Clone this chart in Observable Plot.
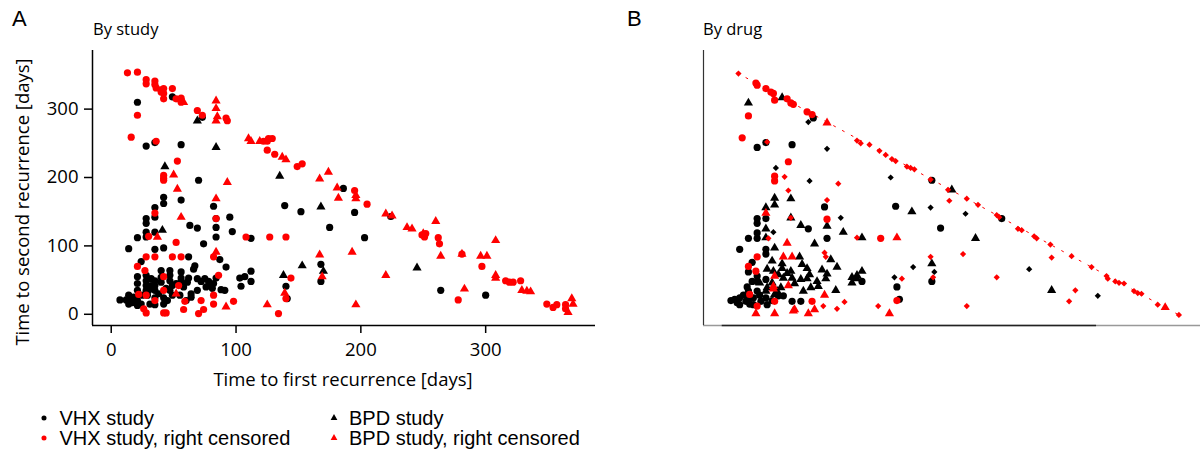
<!DOCTYPE html>
<html><head><meta charset="utf-8">
<script src="https://cdn.jsdelivr.net/npm/d3@7"></script>
<script src="https://cdn.jsdelivr.net/npm/@observablehq/plot@0.6"></script>
<style>
body{margin:0;background:#fff;}
#wrap{position:relative;width:1203px;height:450px;overflow:hidden;font-family:"Open Sans",sans-serif;color:#000;}
.abs{position:absolute;white-space:nowrap;line-height:1;}
.plot{position:absolute;top:0;}
.leg{position:absolute;font-family:"Liberation Sans",Arial,sans-serif;font-size:20px;line-height:20px;white-space:nowrap;}
</style></head>
<body><div id="wrap">
<div class="abs" style="left:12px;top:8px;font-size:22px;font-family:'Liberation Sans',Arial,sans-serif;">A</div>
<div class="abs" style="left:93px;top:21px;font-size:16.5px;">By study</div>
<div class="abs" style="left:627px;top:8px;font-size:22px;font-family:'Liberation Sans',Arial,sans-serif;">B</div>
<div class="abs" style="left:703px;top:21px;font-size:16.5px;">By drug</div>
<div class="abs" style="left:22px;top:202px;font-size:18.5px;transform:translate(-50%,-50%) rotate(-90deg);">Time to second recurrence [days]</div>
<div class="abs" style="left:343px;top:379px;font-size:18.5px;transform:translate(-50%,-50%);">Time to first recurrence [days]</div>
<div id="pa" class="plot" style="left:0px"></div>
<div id="pb" class="plot" style="left:611px"></div>
<div id="legend"></div>
</div>
<script>
// ---------- Panel A: by study (days) ----------
const xTicks = [0, 100, 200, 300];
const yTicks = [0, 100, 200, 300];

// VHX study, event observed (black circles)
const vhxObserved = [[21,310],[49,318],[73,288],[28,246],[35,251],[56,248],[70,196],[139,159],[42,171],[42,162],[56,167],[82,158],[95,142],[152,150],[175,127],[186,184],[195,149],[203,112],[224,143],[264,35],[300,28],[168,73],[168,48],[140,41],[141,23],[63,130],[69,126],[74,103],[84,140],[84,127],[84,113],[97,121],[112,111],[28,140],[28,133],[28,120],[28,113],[35,156],[35,142],[35,120],[21,112],[14,96],[35,95],[42,97],[62,84],[24,77],[87,80],[92,69],[91,35],[103,53],[107,55],[112,63],[112,48],[104,41],[67,71],[66,66],[84,53],[76,40],[80,42],[81,38],[69,52],[72,48],[69,35],[64,30],[64,25],[49,28],[47,64],[47,57],[47,49],[49,42],[47,35],[56,62],[56,53],[56,48],[62,53],[61,47],[40,64],[40,54],[40,47],[35,49],[35,42],[35,35],[35,24],[32,52],[32,42],[30,35],[29,28],[28,57],[28,49],[28,42],[28,35],[21,55],[21,45],[21,35],[14,28],[16,23],[18,25],[14,15],[7,21],[21,20],[21,13],[24,15],[42,24],[42,15],[55,28],[60,20],[35,14],[45,20],[38,30],[52,45],[44,38],[25,28],[31,15],[17,17],[12,21],[58,40],[75,52],[82,45],[88,36],[78,48]];
// VHX study, right censored (red circles)
const vhxCensored = [[13,353],[21,354],[28,343],[28,337],[35,341],[35,336],[36,331],[40,328],[42,330],[40,325],[42,323],[42,315],[49,330],[52,315],[56,316],[56,310],[69,298],[73,291],[21,291],[16,259],[36,253],[92,287],[93,283],[53,224],[42,203],[42,199],[42,196],[122,253],[125,253],[126,257],[129,257],[125,240],[131,234],[149,216],[153,220],[195,181],[205,161],[249,116],[252,118],[251,113],[262,112],[263,103],[281,88],[297,70],[316,49],[319,47],[322,47],[328,49],[349,15],[354,10],[357,14],[364,14],[364,8],[278,21],[144,53],[140,23],[134,1],[108,113],[127,113],[140,113],[98,19],[35,148],[30,114],[52,105],[28,84],[35,84],[49,84],[56,84],[21,70],[27,64],[84,140],[82,84],[42,55],[42,35],[35,20],[22,29],[28,28],[26,8],[28,2],[42,2],[44,2],[58,7],[54,42],[59,19],[70,1],[74,7],[72,20],[82,15],[82,28],[86,57]];
// BPD study, event observed (black triangles)
const bpdObserved = [[69,283],[84,244],[43,216],[135,202],[41,123],[168,157],[153,71],[170,63],[138,57],[245,68]];
// BPD study, right censored (red triangles)
const bpdCensored = [[84,312],[84,301],[85,289],[84,283],[58,310],[50,204],[53,183],[93,193],[110,257],[112,253],[119,253],[137,230],[140,226],[167,198],[174,208],[181,185],[182,170],[196,174],[196,169],[193,91],[220,147],[225,144],[237,127],[241,125],[260,136],[264,85],[281,88],[296,85],[301,85],[308,108],[308,57],[308,53],[329,35],[333,34],[336,33],[369,23],[370,15],[366,3],[220,57],[283,37],[196,14],[167,87],[169,55],[139,31],[125,14],[92,11],[84,169],[56,142],[37,113],[84,91],[52,30],[250,118]];

// ---------- Panel B: by drug (days, follow-up truncated at one year) ----------
const asObserved = [[73,287],[28,244],[35,251],[56,248],[139,158],[82,157],[175,126],[224,140],[168,48],[168,196],[140,40],[112,48],[69,125],[84,111],[28,140],[35,140],[28,133],[28,119],[21,111],[28,111],[14,95],[35,95],[35,88],[24,76],[28,56],[28,48],[35,51],[7,20],[14,24],[14,14],[19,19],[25,24],[25,14],[31,19],[28,34],[21,34],[35,24],[36,14],[49,27],[56,19],[63,19],[142,22],[17,28],[21,22],[10,22],[12,17],[22,15],[30,28],[20,40],[24,48],[40,20],[45,27],[21,62]];
const cqObserved = [[21,309],[48,317],[184,182],[152,150],[203,111],[264,35],[168,74],[42,170],[42,160],[55,169],[35,156],[55,141],[84,129],[35,125],[35,112],[63,130],[97,120],[112,112],[42,97],[74,103],[62,84],[87,80],[92,69],[64,73],[68,67],[41,63],[48,67],[55,63],[49,53],[56,53],[63,51],[68,52],[76,48],[83,52],[84,59],[77,41],[71,39],[65,34],[91,35],[47,39],[40,46],[44,34],[36,39],[104,54],[108,52],[112,63],[104,46],[108,57],[35,34],[42,29],[30,46],[45,58],[58,45],[52,60],[70,58],[36,66],[40,78],[48,74],[80,65]];
const pmqObserved = [[69,281],[84,242],[43,214],[70,195],[135,200],[95,141],[41,120],[167,156],[195,147],[246,66],[301,27],[138,54],[153,69],[170,62]];
const asCensored = [[27,338],[28,335],[35,330],[39,325],[41,323],[42,313],[52,315],[55,309],[57,307],[68,296],[72,292],[21,290],[16,258],[53,223],[42,202],[42,195],[127,111],[84,139],[28,84],[21,70],[27,63],[140,20],[72,19],[22,29],[28,12],[42,19]];
const cqCensored = [[84,280],[35,148],[52,104],[49,84],[56,84],[140,112],[134,1],[42,56],[41,41],[41,37],[53,42],[27,1],[42,1],[58,7],[69,1],[74,7],[82,28],[355,10],[57,5]];
const pmqCensored = [[13,352],[108,254],[111,250],[118,248],[126,239],[131,233],[136,227],[139,224],[148,216],[151,214],[154,212],[167,197],[181,182],[220,145],[222,142],[237,125],[240,123],[250,114],[252,111],[263,102],[280,85],[296,69],[308,56],[309,52],[315,48],[318,46],[322,45],[330,34],[333,31],[336,30],[349,14],[366,-1],[36,252],[50,201],[53,181],[93,191],[84,167],[55,141],[108,112],[82,90],[83,84],[37,111],[81,12],[92,8],[98,18],[125,12],[144,52],[167,84],[169,54],[193,88],[196,12],[220,54],[283,35],[278,19],[264,83],[182,166],[196,169],[205,160]];
// one-year follow-up limit drawn in panel B
const followUpLimit = [[12,353],[366,-1]];

const legendItems = [
  {label:"VHX study", symbol:"circle", color:"black", col:0, row:0},
  {label:"VHX study, right censored", symbol:"circle", color:"red", col:0, row:1},
  {label:"BPD study", symbol:"triangle", color:"black", col:1, row:0},
  {label:"BPD study, right censored", symbol:"triangle", color:"red", col:1, row:1}
];

const RED = "#ff0000";
const xDomA = [-15, 388], yDom = [-16.4, 385.7];
const px = d => d[0], py = d => d[1];
const RC = 3.6, RT = 3.4, RD = 2.8;

const plotA = Plot.plot({
  width: 600, height: 400,
  marginLeft: 92, marginRight: 5, marginTop: 50, marginBottom: 75,
  x: {domain: xDomA}, y: {domain: yDom},
  style: {fontFamily: "'Open Sans', sans-serif", fontSize: "18.5px", background: "transparent", color: "#000"},
  marks: [
    Plot.axisX(xTicks, {tickSize: 8, tickPadding: 9, strokeWidth: 1.5, fontSize: 18.5, label: null}),
    Plot.axisY(yTicks, {tickSize: 8, tickPadding: 6, strokeWidth: 1.5, fontSize: 18.5, label: null}),
    Plot.ruleX([xDomA[0]], {strokeWidth: 1.5}),
    Plot.ruleY([yDom[0]], {strokeWidth: 1.5}),
    Plot.dot(vhxObserved, {x: px, y: py, symbol: "circle", fill: "black", r: RC}),
    Plot.dot(bpdObserved, {x: px, y: py, symbol: "triangle", fill: "black", r: RT}),
    Plot.dot(vhxCensored, {x: px, y: py, symbol: "circle", fill: RED, r: RC}),
    Plot.dot(bpdCensored, {x: px, y: py, symbol: "triangle", fill: RED, r: RT})
  ]
});
document.getElementById("pa").append(plotA);

const xDomB = [-15, 383.3];
const plotB = Plot.plot({
  width: 592, height: 400,
  marginLeft: 92, marginRight: 3, marginTop: 50, marginBottom: 75,
  x: {domain: xDomB, axis: null}, y: {domain: yDom, axis: null},
  style: {background: "transparent"},
  marks: [
    Plot.ruleY([yDom[0]], {stroke: "#999", strokeWidth: 1.5}),
    Plot.ruleY([yDom[0]], {x1: xTicks[0], x2: xTicks[xTicks.length-1], stroke: "#222", strokeWidth: 1.5}),
    Plot.ruleX([xDomB[0]], {stroke: "#333", strokeWidth: 1.2}),
    Plot.line(followUpLimit, {x: px, y: py, stroke: RED, strokeWidth: 1, strokeDasharray: "2,8"}),
    Plot.dot(asObserved, {x: px, y: py, symbol: "circle", fill: "black", r: RC}),
    Plot.dot(cqObserved, {x: px, y: py, symbol: "triangle", fill: "black", r: RT}),
    Plot.dot(pmqObserved, {x: px, y: py, symbol: "diamond2", fill: "black", r: RD}),
    Plot.dot(asCensored, {x: px, y: py, symbol: "circle", fill: RED, r: RC}),
    Plot.dot(cqCensored, {x: px, y: py, symbol: "triangle", fill: RED, r: RT}),
    Plot.dot(pmqCensored, {x: px, y: py, symbol: "diamond2", fill: RED, r: RD})
  ]
});
document.getElementById("pb").append(plotB);

// legend
const leg = document.getElementById("legend");
const colX = [{marker: 43.5, text: 59.5}, {marker: 334, text: 349}];
const rowY = [418, 438];
for (const it of legendItems) {
  const d = document.createElement("div");
  d.className = "leg";
  d.style.left = colX[it.col].text + "px";
  d.style.top = (rowY[it.row] - 10) + "px";
  d.textContent = it.label;
  leg.append(d);
  const s = d3.create("svg").attr("width", 10).attr("height", 10)
    .style("position", "absolute")
    .style("left", (colX[it.col].marker - 5) + "px")
    .style("top", (rowY[it.row] - 5) + "px");
  s.append("path")
    .attr("transform", "translate(5,5)")
    .attr("d", d3.symbol(it.symbol === "circle" ? d3.symbolCircle : d3.symbolTriangle, 20)())
    .attr("fill", it.color === "red" ? RED : "black");
  leg.append(s.node());
}
</script>
</body></html>
